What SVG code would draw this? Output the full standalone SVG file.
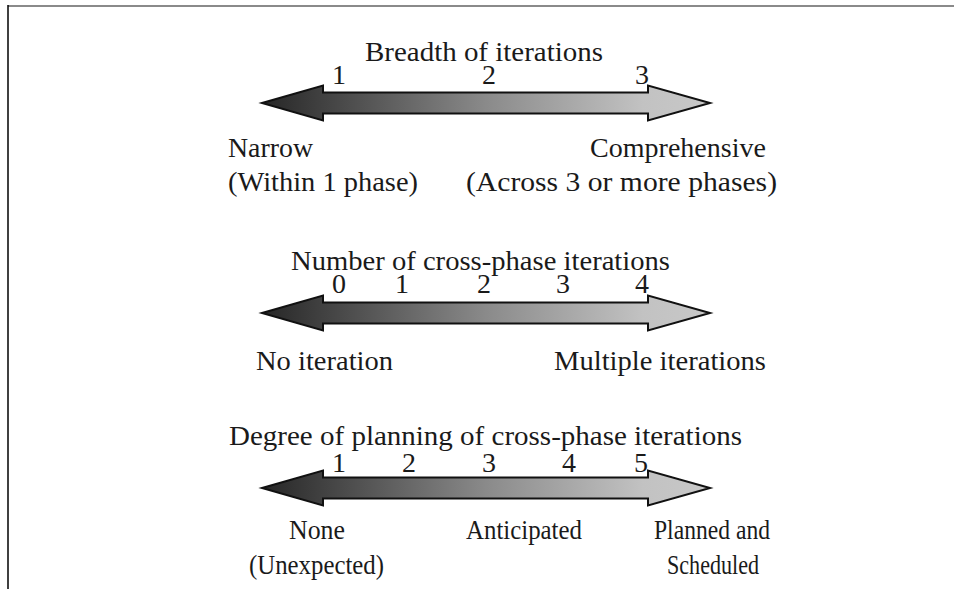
<svg xmlns="http://www.w3.org/2000/svg" width="954" height="589" viewBox="0 0 954 589">
<style>
text { font-family: "Liberation Serif", "Times New Roman", serif; font-size: 28px; fill: #1a1a1a; }
.arrow { fill: url(#g); stroke: #111; stroke-width: 2; stroke-linejoin: miter; }
</style>
<defs>
<linearGradient id="g" x1="0" y1="0" x2="1" y2="0">
<stop offset="0" stop-color="#262626"/>
<stop offset="0.5" stop-color="#8a8a8a"/>
<stop offset="0.85" stop-color="#c2c2c2"/>
<stop offset="1" stop-color="#c8c8c8"/>
</linearGradient>
<path id="arr" class="arrow" d="M262,0 L323,-17.5 L323,-10.5 L648,-10.5 L648,-17.5 L710,0 L648,17.5 L648,10.5 L323,10.5 L323,17.5 Z"/>
</defs>
<rect width="954" height="589" fill="#fff"/>
<g id="frame">
<line x1="8" y1="6" x2="954" y2="6" stroke="#8a8a8a" stroke-width="2"/>
<line x1="8" y1="5" x2="8" y2="589" stroke="#000" stroke-width="1.5"/>
</g>
<g id="connectors">
<use href="#arr" y="103"/>
<use href="#arr" y="313"/>
<use href="#arr" y="488"/>
</g>
<g id="scale1">
<text x="365" y="61" textLength="238" lengthAdjust="spacingAndGlyphs">Breadth of iterations</text>
<text x="339" y="84" text-anchor="middle">1</text>
<text x="489" y="84" text-anchor="middle">2</text>
<text x="642" y="84" text-anchor="middle">3</text>
<text x="228" y="157" textLength="85" lengthAdjust="spacingAndGlyphs">Narrow</text>
<text x="228" y="191" textLength="190" lengthAdjust="spacingAndGlyphs">(Within 1 phase)</text>
<text x="590" y="157" textLength="176" lengthAdjust="spacingAndGlyphs">Comprehensive</text>
<text x="466" y="191" textLength="311" lengthAdjust="spacingAndGlyphs">(Across 3 or more phases)</text>
</g>
<g id="scale2">
<text x="291" y="270" textLength="379" lengthAdjust="spacingAndGlyphs">Number of cross-phase iterations</text>
<text x="339" y="293" text-anchor="middle">0</text>
<text x="402" y="293" text-anchor="middle">1</text>
<text x="484" y="293" text-anchor="middle">2</text>
<text x="563" y="293" text-anchor="middle">3</text>
<text x="642" y="293" text-anchor="middle">4</text>
<text x="256" y="370" textLength="137" lengthAdjust="spacingAndGlyphs">No iteration</text>
<text x="554" y="370" textLength="212" lengthAdjust="spacingAndGlyphs">Multiple iterations</text>
</g>
<g id="scale3">
<text x="229" y="445" textLength="513" lengthAdjust="spacingAndGlyphs">Degree of planning of cross-phase iterations</text>
<text x="339" y="472" text-anchor="middle">1</text>
<text x="409" y="472" text-anchor="middle">2</text>
<text x="489" y="472" text-anchor="middle">3</text>
<text x="569" y="472" text-anchor="middle">4</text>
<text x="641" y="472" text-anchor="middle">5</text>
<text x="289" y="539" textLength="56" lengthAdjust="spacingAndGlyphs">None</text>
<text x="249" y="574" textLength="135" lengthAdjust="spacingAndGlyphs">(Unexpected)</text>
<text x="466" y="539" textLength="116" lengthAdjust="spacingAndGlyphs">Anticipated</text>
<text x="654" y="539" textLength="116" lengthAdjust="spacingAndGlyphs">Planned and</text>
<text x="667" y="574" textLength="92" lengthAdjust="spacingAndGlyphs">Scheduled</text>
</g>
</svg>
